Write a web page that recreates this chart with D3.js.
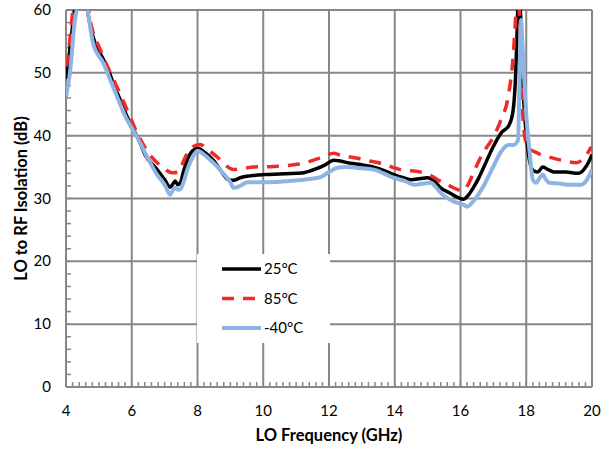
<!DOCTYPE html>
<html lang="en">
<head>
    <meta charset="utf-8">
    <title>LO to RF Isolation</title>
    <script type="text/javascript" src="https://d3js.org/d3.v7.min.js"></script>
    <style>
        body { margin: 0; background: #fff; }
        text { font-family: Lato, "Open Sans", sans-serif; fill: #000; }
    </style>
</head>
<body>
    <div id="container"></div>
    <script type="text/javascript">
        // values
        var freq25 = [4.0, 4.1, 4.2, 4.27, 4.45, 4.62, 4.7, 4.88, 5.0, 5.19, 5.3, 5.43, 5.65, 5.86, 6.05, 6.2, 6.4, 6.77, 7.0, 7.17, 7.25, 7.32, 7.4, 7.48, 7.57, 7.7, 7.85, 8.02, 8.2, 8.48, 8.7, 8.94, 9.1, 9.3, 9.6, 10.0, 10.5, 11.0, 11.23, 11.6, 11.9, 12.14, 12.3, 12.66, 12.96, 13.36, 13.7, 13.97, 14.2, 14.49, 14.8, 15.0, 15.2, 15.4, 15.7, 15.95, 16.1, 16.2, 16.4, 16.55, 16.71, 16.99, 17.23, 17.48, 17.6, 17.68, 17.73, 17.77, 17.82, 17.9, 18.05, 18.2, 18.35, 18.5, 18.7, 18.85, 19.2, 19.58, 19.75, 19.9, 20.0];
        var iso25 = [49.0, 53, 57.5, 60.5, 66, 61, 58.5, 54.8, 53.5, 51.6, 50.3, 48.4, 45.7, 43, 41, 39.5, 37, 34.6, 33, 31.8, 32.3, 32.8, 32.2, 32.5, 34.2, 36.3, 37.6, 38.0, 37.4, 36.1, 34.5, 33.0, 32.9, 33.3, 33.6, 33.8, 33.9, 34.0, 34.1, 34.7, 35.4, 36.1, 36.0, 35.6, 35.4, 35.0, 34.4, 33.8, 33.4, 33.0, 33.2, 33.3, 32.8, 31.7, 30.8, 30.1, 29.9, 30.3, 31.8, 33.2, 35, 38.2, 40.4, 41.7, 44, 50, 58, 64, 60, 48, 37.7, 34.5, 34.2, 35, 34.5, 34.2, 34.2, 34, 34.6, 35.8, 37];

        var freq85 = [4.0, 4.07, 4.15, 4.22, 4.4, 4.62, 4.75, 5.04, 5.28, 5.59, 5.86, 6.16, 6.5, 6.93, 7.23, 7.41, 7.5, 7.63, 7.85, 8.08, 8.3, 8.6, 8.85, 9.09, 9.4, 9.7, 10.3, 10.98, 11.3, 11.53, 11.85, 12.14, 12.35, 12.87, 13.2, 13.57, 14.18, 14.79, 15.05, 15.3, 15.6, 15.92, 16.05, 16.23, 16.4, 16.68, 17.0, 17.23, 17.45, 17.6, 17.69, 17.74, 17.8, 17.87, 17.95, 18.05, 18.35, 18.7, 19.06, 19.52, 19.75, 19.98];
        var iso85 = [51, 53, 57, 60.5, 66, 62, 58, 53.7, 50.8, 47.3, 44.1, 40.5, 37.3, 35.0, 34.1, 34.2, 35, 36.6, 38.2, 38.6, 37.8, 36.6, 35.3, 34.6, 34.8, 35, 35.1, 35.4, 35.7, 36.1, 36.7, 37.2, 36.9, 36.4, 36.0, 35.6, 34.6, 34.2, 33.8, 33.0, 32.2, 31.4, 31.2, 32.2, 34.2, 37.2, 39.8, 42.5, 46.2, 52.5, 60, 64, 58, 46, 40, 38.2, 37.2, 36.6, 36.1, 35.7, 36.4, 38.2];

        var freqM40 = [4.0, 4.12, 4.27, 4.37, 4.5, 4.64, 4.82, 5.13, 5.43, 5.86, 6.16, 6.45, 6.77, 7.0, 7.17, 7.25, 7.32, 7.4, 7.48, 7.6, 7.69, 7.85, 8.0, 8.2, 8.48, 8.75, 9.0, 9.09, 9.3, 9.52, 10.2, 10.8, 11.23, 11.74, 12.0, 12.26, 12.5, 13.0, 13.36, 13.97, 14.3, 14.58, 15.1, 15.25, 15.4, 15.8, 16.1, 16.2, 16.38, 16.68, 16.99, 17.23, 17.45, 17.6, 17.75, 17.8, 17.84, 17.88, 17.99, 18.1, 18.2, 18.3, 18.4, 18.5, 18.6, 18.7, 19.0, 19.27, 19.67, 19.85, 20.0];
        var isoM40 = [46.2, 50, 58.4, 61, 64, 60.5, 54.8, 51.6, 47.8, 42.5, 39.8, 36.8, 33.8, 32.2, 30.6, 31.3, 31.7, 31.4, 31.5, 33, 34.6, 36.5, 37.6, 37.0, 35.7, 34.2, 32.6, 31.7, 32.0, 32.6, 32.6, 32.8, 33.0, 33.4, 34.2, 34.9, 35.0, 34.8, 34.6, 33.3, 32.8, 32.2, 32.5, 31.8, 30.9, 29.5, 29.0, 28.7, 29.5, 31.8, 35.0, 37.4, 38.5, 38.5, 39.3, 50, 58.4, 55, 44.1, 37.5, 33.0, 32.5, 33.2, 33.8, 33.0, 32.5, 32.4, 32.2, 32.2, 33, 34.6];

        var seriesNames = ["25°C", "85°C", "-40°C"];
        var xTicks = [4, 6, 8, 10, 12, 14, 16, 18, 20];
        var yTicks = [0, 10, 20, 30, 40, 50, 60];

        var w = 610, h = 449;
        var margin = { top: 10, right: 18, bottom: 62, left: 66 };
        var iw = w - margin.left - margin.right;
        var ih = h - margin.top - margin.bottom;
        var grid = "#878787";

        const svg = d3.select("div#container")
            .append("svg")
            .attr("width", w)
            .attr("height", h);

        var x = d3.scaleLinear().domain([4, 20]).range([0, iw]);
        var y = d3.scaleLinear().domain([0, 60]).range([ih, 0]);

        var g = svg.append("g").attr("transform", "translate(" + margin.left + "," + margin.top + ")");

        // grid
        g.selectAll("line.vg").data(xTicks).enter().append("line")
            .attr("x1", d => x(d)).attr("x2", d => x(d))
            .attr("y1", 0).attr("y2", ih)
            .attr("stroke", grid).attr("stroke-width", 2);
        g.selectAll("line.hg").data(yTicks).enter().append("line")
            .attr("x1", 0).attr("x2", iw)
            .attr("y1", d => y(d)).attr("y2", d => y(d))
            .attr("stroke", grid).attr("stroke-width", 2);

        // minor ticks
        var xMinor = d3.range(4, 20.001, 0.2);
        g.selectAll("line.xm").data(xMinor).enter().append("line")
            .attr("x1", d => x(d)).attr("x2", d => x(d))
            .attr("y1", ih).attr("y2", ih - 5)
            .attr("stroke", grid).attr("stroke-width", 1.5);
        var yMinor = d3.range(0, 60.001, 2);
        g.selectAll("line.ym").data(yMinor).enter().append("line")
            .attr("x1", 0).attr("x2", 5)
            .attr("y1", d => y(d)).attr("y2", d => y(d))
            .attr("stroke", grid).attr("stroke-width", 1.5);

        // tick labels
        g.selectAll("text.xl").data(xTicks).enter().append("text")
            .attr("x", d => x(d)).attr("y", ih + 29)
            .attr("text-anchor", "middle")
            .style("font-size", "15px")
            .text(d => d);
        g.selectAll("text.yl").data(yTicks).enter().append("text")
            .attr("x", -15).attr("y", d => y(d) + 5)
            .attr("text-anchor", "end")
            .style("font-size", "15px")
            .text(d => d);

        // axis titles
        svg.append("text")
            .attr("x", margin.left + iw / 2).attr("y", 441)
            .attr("text-anchor", "middle")
            .style("font-size", "16.5px").style("font-weight", "bold")
            .text("LO Frequency (GHz)");
        svg.append("text")
            .attr("transform", "translate(27," + (margin.top + ih / 2) + ") rotate(-90)")
            .attr("text-anchor", "middle")
            .style("font-size", "16.5px").style("font-weight", "bold")
            .text("LO to RF Isolation (dB)");

        // legend box (hides grid behind it)
        var lg = g.append("g").attr("transform", "translate(" + (197 - margin.left) + "," + (254 - margin.top) + ")");
        lg.append("rect").attr("width", 133).attr("height", 89).attr("fill", "#fff");

        // curves
        svg.append("clipPath").attr("id", "clip")
            .append("rect").attr("width", iw).attr("height", ih);

        var line = d3.line()
            .x(d => x(d[0]))
            .y(d => y(d[1]))
            .curve(d3.curveMonotoneX);

        var series = [
            { name: seriesNames[0], pts: d3.zip(freq25, iso25), color: "#000000", width: 3.5, dash: null },
            { name: seriesNames[1], pts: d3.zip(freq85, iso85), color: "#ee2a2a", width: 3.5, dash: "12,9" },
            { name: seriesNames[2], pts: d3.zip(freqM40, isoM40), color: "#8eb4e3", width: 4, dash: null }
        ];

        var cg = g.append("g").attr("clip-path", "url(#clip)");
        cg.selectAll("path").data(series).enter().append("path")
            .attr("d", d => line(d.pts))
            .attr("fill", "none")
            .attr("stroke", d => d.color)
            .attr("stroke-width", d => d.width)
            .attr("stroke-dasharray", d => d.dash)
            .attr("stroke-linejoin", "round");

        // legend entries
        var items = lg.selectAll("g.item").data(series).enter().append("g")
            .attr("transform", (d, i) => "translate(0," + (15 + i * 29.5) + ")");
        items.append("line")
            .attr("x1", 25).attr("x2", 64)
            .attr("stroke", d => d.color)
            .attr("stroke-width", d => d.width)
            .attr("stroke-dasharray", d => d.dash);
        items.append("text")
            .attr("x", 67).attr("y", 5)
            .style("font-size", "15px")
            .text(d => d.name);
    </script>
</body>
</html>
